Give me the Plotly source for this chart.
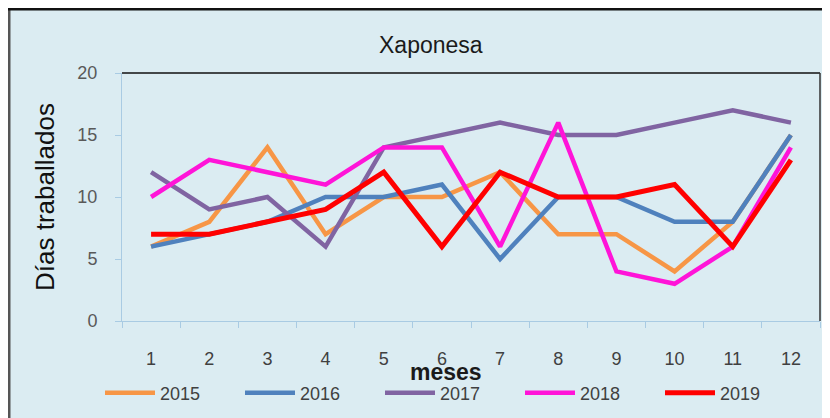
import plotly.graph_objects as go

meses = ["1", "2", "3", "4", "5", "6", "7", "8", "9", "10", "11", "12"]
anos = ["2015", "2016", "2017", "2018", "2019"]
v2015 = [6, 8, 14, 7, 10, 10, 12, 7, 7, 4, 8, 15]
v2016 = [6, 7, 8, 10, 10, 11, 5, 10, 10, 8, 8, 15]
v2017 = [12, 9, 10, 6, 14, 15, 16, 15, 15, 16, 17, 16]
v2018 = [10, 13, 12, 11, 14, 14, 6, 16, 4, 3, 6, 14]
v2019 = [7, 7, 8, 9, 12, 6, 12, 10, 10, 11, 6, 13]
yticks = [0, 5, 10, 15, 20]

series = [v2015, v2016, v2017, v2018, v2019]
colors = ["#F79646", "#4F81BD", "#8064A2", "#FF14D8", "#FF0000"]
widths = [4.5, 4.5, 4.5, 4.5, 5]

BG = "#DBECF2"
NARROW = "Liberation Sans Narrow, Arial Narrow, Liberation Sans, Arial, sans-serif"

fig = go.Figure()
for name, vals, c, w in zip(anos, series, colors, widths):
    fig.add_trace(go.Scatter(x=meses, y=vals, name=name, mode="lines",
                             line=dict(color=c, width=w)))

# page body has an 8px margin: lay out the figure in screen coordinates minus 8
O = 8
W, H = 830 - O, 418 - O
L, R, T, B = 122 - O, 820 - O, 73 - O, 321 - O
pw, ph = R - L, B - T

def px(x):  # screen x -> paper
    return (x - O - L) / pw

def py(y):  # screen y -> paper
    return (B - (y - O)) / ph

fig.update_layout(
    width=W, height=H,
    margin=dict(l=L, r=W - R, t=T, b=H - B, autoexpand=False),
    paper_bgcolor="white",
    plot_bgcolor=BG,
    showlegend=True,
    legend=dict(orientation="h", x=px(100), y=py(393), xanchor="left", yanchor="middle",
                entrywidth=75, entrywidthmode="pixels",
                font=dict(family=NARROW, size=18, color="#404040"),
                bgcolor="rgba(0,0,0,0)", itemwidth=50),
    xaxis=dict(type="category", range=[-0.5, 11.5], tickson="boundaries",
               ticks="outside", ticklen=6,
               tickcolor="#A9CBE3", showline=True, linecolor="#A9CBE3", linewidth=1,
               showgrid=False, zeroline=False,
               tickfont=dict(family=NARROW, size=18, color="#404040"),
               ticklabelstandoff=21),
    yaxis=dict(range=[0, 20], tickvals=yticks, ticks="outside", ticklen=6,
               tickcolor="#A9CBE3", showline=True, linecolor="#A9CBE3", linewidth=1,
               showgrid=False, zeroline=False,
               tickfont=dict(family=NARROW, size=18, color="#595959"),
               ticklabelstandoff=14),
    shapes=[
        dict(type="rect", xref="paper", yref="paper", x0=px(9), x1=px(840), y0=py(430), y1=py(9),
             fillcolor=BG, line=dict(width=0), layer="below"),
        dict(type="line", xref="paper", yref="paper", x0=px(9), x1=px(9), y0=py(430), y1=py(9),
             line=dict(color="#555555", width=3)),
        dict(type="line", xref="paper", yref="paper", x0=px(8), x1=px(840), y0=py(9), y1=py(9),
             line=dict(color="#111111", width=3)),
        dict(type="line", xref="paper", yref="paper", x0=0, x1=1, y0=1, y1=1,
             line=dict(color="#111111", width=1.5)),
        dict(type="line", xref="paper", yref="paper", x0=1, x1=1, y0=0, y1=1,
             line=dict(color="#333333", width=1.5)),
    ],
    annotations=[
        dict(text="Xaponesa", xref="paper", yref="paper", x=px(431), y=py(45),
             showarrow=False, xanchor="center", yanchor="middle",
             font=dict(family="Liberation Sans, Arial, sans-serif", size=23, color="#1a1a1a")),
        dict(text="Días traballados", xref="paper", yref="paper", x=px(45), y=py(197),
             showarrow=False, xanchor="center", yanchor="middle", textangle=-90,
             font=dict(family="Liberation Sans, Arial, sans-serif", size=26, color="#111111")),
        dict(text="<b>meses</b>", xref="paper", yref="paper", x=px(446), y=py(372),
             showarrow=False, xanchor="center", yanchor="middle",
             font=dict(family=NARROW, size=23, color="#1a1a1a")),
    ],
)

fig.write_html("out.html")
